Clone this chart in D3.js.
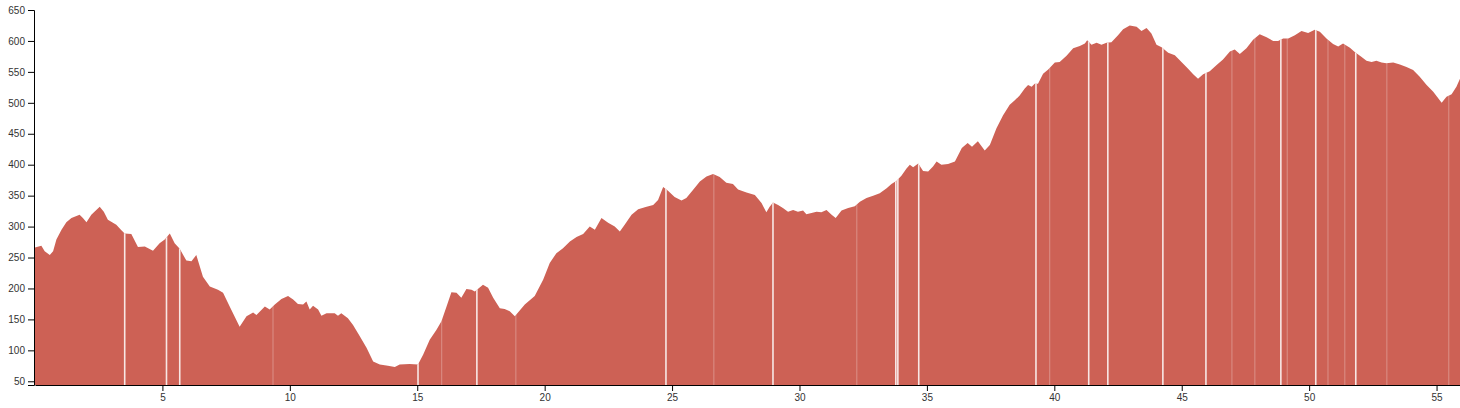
<!DOCTYPE html>
<html><head><meta charset="utf-8">
<script src="https://cdn.jsdelivr.net/npm/d3@7"></script>
<style>body{margin:0;background:#fff}svg{display:block}</style>
</head><body><svg id="chart" width="1460" height="408"></svg>
<script>
const distances = [0.00,0.25,0.38,0.58,0.71,0.84,1.04,1.23,1.43,1.75,1.88,2.02,2.21,2.54,2.70,2.86,3.19,3.39,3.52,3.78,4.04,4.31,4.63,4.89,5.09,5.29,5.48,5.68,5.94,6.14,6.33,6.59,6.86,7.18,7.38,7.64,8.03,8.30,8.56,8.69,9.02,9.21,9.41,9.67,9.93,10.13,10.32,10.52,10.65,10.78,10.91,11.11,11.24,11.44,11.76,11.89,12.02,12.28,12.48,12.74,13.01,13.27,13.53,13.85,14.12,14.31,14.70,15.03,15.23,15.49,15.75,15.95,16.15,16.34,16.54,16.73,16.93,17.13,17.26,17.58,17.78,17.98,18.24,18.43,18.63,18.83,19.22,19.61,19.94,20.20,20.46,20.72,20.99,21.25,21.51,21.77,21.97,22.23,22.49,22.75,22.95,23.14,23.41,23.67,24.00,24.26,24.45,24.65,24.84,25.10,25.37,25.56,25.82,26.09,26.35,26.61,26.87,27.13,27.39,27.59,27.92,28.25,28.51,28.70,28.83,28.96,29.16,29.35,29.55,29.75,29.94,30.14,30.27,30.47,30.67,30.86,31.06,31.26,31.42,31.65,31.91,32.17,32.37,32.63,32.89,33.15,33.42,33.61,33.81,34.00,34.20,34.33,34.46,34.66,34.85,35.05,35.24,35.38,35.57,35.83,36.10,36.37,36.60,36.77,37.00,37.27,37.47,37.73,37.99,38.25,38.45,38.64,38.84,38.97,39.11,39.23,39.36,39.56,39.76,40.02,40.21,40.48,40.74,41.00,41.20,41.29,41.46,41.66,41.85,42.05,42.24,42.50,42.70,42.96,43.23,43.42,43.62,43.81,44.01,44.21,44.47,44.73,44.99,45.25,45.45,45.64,45.84,46.10,46.37,46.62,46.89,47.08,47.28,47.54,47.80,48.06,48.33,48.59,48.78,48.98,49.18,49.44,49.70,49.96,50.22,50.42,50.68,50.94,51.14,51.33,51.60,51.79,52.06,52.25,52.45,52.64,52.84,53.03,53.30,53.56,53.82,54.08,54.34,54.61,54.87,55.20,55.39,55.59,55.78,55.92];
const elevations = [266,269,260,254,260,279,295,307,314,319,314,307,319,332,324,311,303,294,289,288,267,268,261,273,279,289,273,264,245,244,254,219,203,198,193,171,138,155,161,157,171,166,174,183,188,182,175,174,179,166,172,166,156,160,160,156,160,152,141,123,104,82,77,75,73,77,78,77,93,117,133,147,171,194,193,185,199,198,195,206,201,185,168,167,163,155,174,188,214,241,257,265,276,283,288,300,295,314,306,300,292,303,319,328,332,335,343,364,358,348,342,346,359,373,381,385,380,371,369,360,355,351,338,323,332,339,335,330,324,327,324,326,320,322,324,323,327,319,314,326,330,333,340,346,350,354,362,369,374,382,394,400,396,402,390,389,397,405,400,401,405,427,435,429,438,423,432,459,480,497,504,512,523,529,526,531,531,547,554,565,566,576,588,592,596,601,594,597,594,597,598,609,619,625,623,616,621,612,594,590,581,577,566,555,546,539,546,551,561,570,583,586,579,588,602,611,606,600,600,604,604,609,616,613,618,615,604,595,591,596,589,582,574,568,566,568,565,564,565,562,558,553,542,529,518,500,510,514,526,539];
const yTicks = [50,100,150,200,250,300,350,400,450,500,550,600,650];
const xTicks = [5,10,15,20,25,30,35,40,45,50,55];
const gapsStrong = [3.52,5.16,5.68,15.03,17.34,24.76,28.96,33.78,33.86,34.68,39.28,41.35,42.10,44.26,45.95,48.89,50.26,51.83];
const gapsFaint = [9.34,15.96,18.87,26.64,32.25,39.82,46.97,47.87,49.14,50.74,51.40,53.05,55.48];

const svg = d3.select("#chart");
const x = d3.scaleLinear().domain([0, d3.max(distances)]).range([35, 1460]);
const y = d3.scaleLinear().domain([44, 650]).range([385, 10]);
const pts = distances.map((d, i) => [d, elevations[i]]);

const area = d3.area().x(d => x(d[0])).y0(y(44)).y1(d => y(d[1]));

svg.append("defs").append("clipPath").attr("id", "prof")
  .append("path").attr("d", area(pts));

svg.append("path").attr("d", area(pts)).attr("fill", "#cd6155");

const g = svg.append("g").attr("clip-path", "url(#prof)");
g.selectAll("line.s").data(gapsStrong).join("line").attr("class", "s")
  .attr("x1", d => x(d)).attr("x2", d => x(d)).attr("y1", y(650)).attr("y2", y(44))
  .attr("stroke", "#fff").attr("stroke-width", 1.6).attr("stroke-opacity", 0.85);
g.selectAll("line.f").data(gapsFaint).join("line").attr("class", "f")
  .attr("x1", d => x(d)).attr("x2", d => x(d)).attr("y1", y(650)).attr("y2", y(44))
  .attr("stroke", "#fff").attr("stroke-width", 1).attr("stroke-opacity", 0.3);

const font = "'Liberation Sans', Arial, sans-serif";
const yAxis = svg.append("g").attr("transform", "translate(34,0)")
  .call(d3.axisLeft(y).tickValues(yTicks).tickSizeOuter(6));
const xAxis = svg.append("g").attr("transform", "translate(0,385)")
  .call(d3.axisBottom(x).tickValues(xTicks).tickSizeOuter(0));
[yAxis, xAxis].forEach(a => {
  a.attr("font-family", font).attr("font-size", 10);
  a.selectAll("path,line").attr("stroke", "#000");
  a.selectAll("text").attr("fill", "#333");
});
</script></body></html>
